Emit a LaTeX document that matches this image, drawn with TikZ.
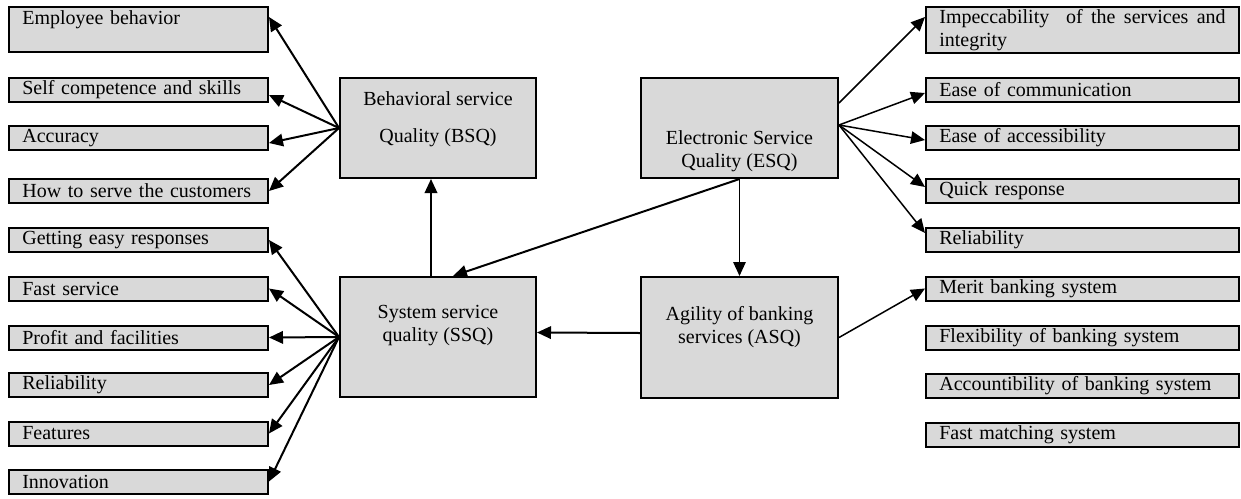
\documentclass[tikz,border=0pt]{standalone}
\usepackage{fontspec}
\setmainfont{Liberation Serif}
\usetikzlibrary{arrows.meta}
\tikzset{
	leaf/.style={draw, line width=1.2pt, fill=black!15, inner xsep=8pt, inner ysep=0pt, align=left, minimum height=14.4pt, font=\fontsize{12}{13.8}\selectfont},
	leftleaf/.style={leaf, text width=139.4pt},
	rightleaf/.style={leaf, text width=171.8pt},
	factor/.style={draw, line width=1.2pt, fill=black!15, minimum width=117.6pt},
	factortext/.style={align=center, inner sep=0pt, font=\fontsize{12}{13.8}\selectfont},
	link/.style={line width=1.2pt, -{Triangle[length=8.4pt,width=7.5pt]}},
	thinlink/.style={line width=0.9pt, -{Triangle[length=8.4pt,width=7.5pt]}},
}

\begin{document}
\begin{tikzpicture}[x=0.6pt, y=-0.6pt]
		%%%%% START %%%%%
		\useasboundingbox (0,0) rectangle (1241,498);
		
		% left column
		\node[leftleaf, minimum height=27pt] (employee) at (138.5,29.5) {Employee behavior\\ \mbox{}};
		\node[leftleaf] (selfcomp) at (138.5,90) {Self competence and skills};
		\node[leftleaf] (accuracy) at (138.5,138) {Accuracy};
		\node[leftleaf] (howserve) at (138.5,191) {How to serve the customers};
		\node[leftleaf] (easyresp) at (138.5,240) {Getting easy responses};
		\node[leftleaf] (fastserv) at (138.5,288.5) {Fast service};
		\node[leftleaf] (profit) at (138.5,337.5) {Profit and facilities};
		\node[leftleaf] (relleft) at (138.5,385) {Reliability};
		\node[leftleaf] (features) at (138.5,433.5) {Features};
		\node[leftleaf] (innovation) at (138.5,481.5) {Innovation};
		
		% right column
		\node[rightleaf, align=justify, minimum height=27.6pt] (impecc) at (1082.5,30) {Impeccability\ \ of the services and\linebreak integrity};
		\node[rightleaf] (easecomm) at (1082.5,90) {Ease of communication};
		\node[rightleaf] (easeacc) at (1082.5,138) {Ease of accessibility};
		\node[rightleaf] (quickresp) at (1082.5,191) {Quick response};
		\node[rightleaf] (relright) at (1082.5,240) {Reliability};
		\node[rightleaf] (merit) at (1082.5,288.5) {Merit banking system};
		\node[rightleaf] (flexib) at (1082.5,337.5) {Flexibility of banking system};
		\node[rightleaf] (accountib) at (1082.5,385.5) {Accountibility of banking system};
		\node[rightleaf] (fastmatch) at (1082.5,434.5) {Fast matching system};
		
		% the four factors
		\node[factor, minimum height=60pt] (bsq) at (438,128) {};
		\node[factortext] (bsqtext) at (438,119.5) {Behavioral service\\[8.4pt]Quality (BSQ)};
		\node[factor, minimum height=72pt] (ssq) at (438,337) {};
		\node[factortext] (ssqtext) at (438,326) {System service\\quality (SSQ)};
		\node[factor, minimum width=118.2pt, minimum height=60pt] (esq) at (739.5,128) {};
		\node[factortext] (esqtext) at (739.5,151) {Electronic Service\\Quality (ESQ)};
		\node[factor, minimum width=118.2pt, minimum height=72.6pt] (asq) at (739.5,337.5) {};
		\node[factortext] (asqtext) at (739.5,327) {Agility of banking\\services (ASQ)};
		
		% BSQ
		\draw[link] (bsq.west) -- ([yshift=7.5pt]employee.east);
		\draw[link] (bsq.west) -- ([yshift=-3pt]selfcomp.east);
		\draw[link] (bsq.west) -- ([yshift=-3pt]accuracy.east);
		\draw[link] (bsq.west) -- (howserve.east);
		
		% SSQ
		\foreach \leafname in {easyresp,fastserv,profit,relleft,features,innovation}
			\draw[link] (ssq.west) -- (\leafname.east);
		\draw[link] ([xshift=-4.2pt]ssq.north) -- ([xshift=-4.2pt]bsq.south);
		
		% ESQ
		\coordinate (esqout) at ([yshift=1.8pt]esq.east);
		\draw[thinlink] ([yshift=15pt]esq.east) -- ([yshift=7.8pt]impecc.west);
		\draw[thinlink] (esqout) -- ([yshift=-1.8pt]easecomm.west);
		\draw[thinlink] (esqout) -- ([yshift=-1.2pt]easeacc.west);
		\draw[thinlink] (esqout) -- ([yshift=2.4pt]quickresp.west);
		\draw[thinlink] (esqout) -- ([yshift=4.2pt]relright.west);
		\draw[link] (esq.south) -- ([xshift=9pt]ssq.north);
		\draw[thinlink] (esq.south) -- (asq.north);
		
		% ASQ
		\draw[link] ([yshift=2.7pt]asq.west) -- ([yshift=2.7pt]ssq.east);
		\draw[thinlink] (asq.east) -- (merit.west);
		
		%%%%% END %%%%%
	\end{tikzpicture}
\end{document}
